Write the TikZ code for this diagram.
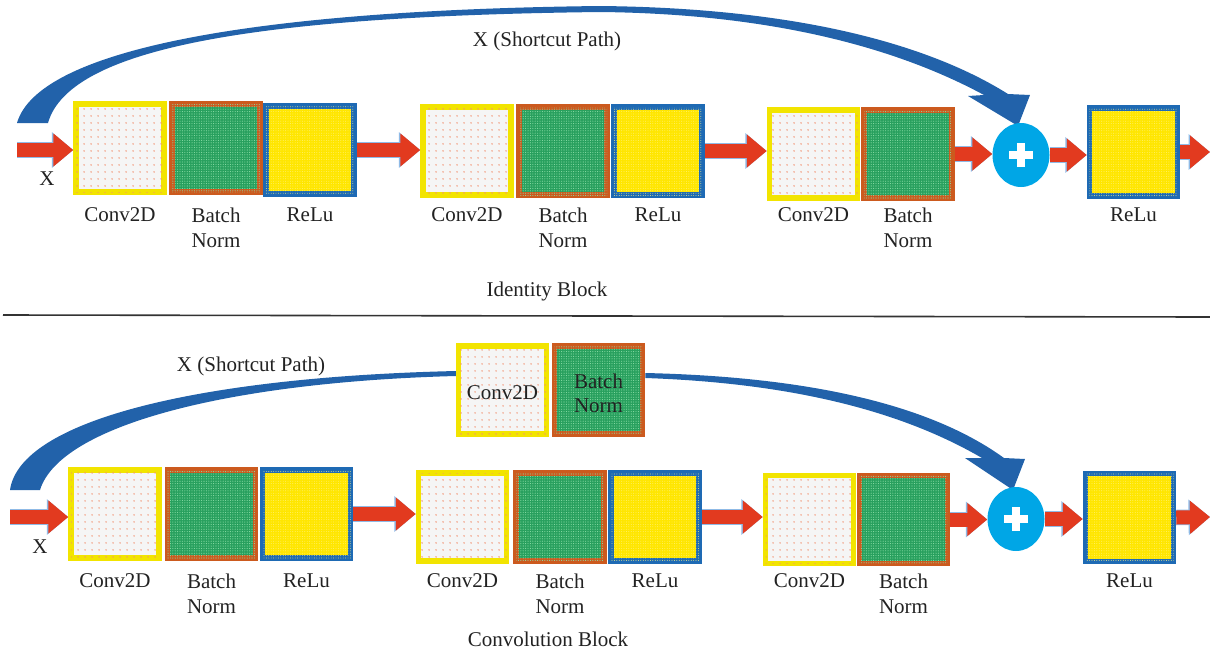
\documentclass[tikz,border=0pt]{standalone}
\usepackage{fontspec}
\setmainfont{Liberation Serif}
\usetikzlibrary{arrows.meta,patterns.meta,shapes.geometric}
\definecolor{arrred}{HTML}{E23A1F}
\definecolor{arrblue}{HTML}{8FBAE6}
\definecolor{convyel}{HTML}{F2E400}
\definecolor{convfill}{HTML}{F5F5F5}
\definecolor{convdot}{HTML}{F29070}
\definecolor{bnorg}{HTML}{CC5A1E}
\definecolor{bngreen}{HTML}{28A05E}
\definecolor{bndot}{HTML}{8ADDA6}
\definecolor{reluyel}{HTML}{FFE600}
\definecolor{reludot}{HTML}{FFF380}
\definecolor{relublue}{HTML}{1E6AB4}
\definecolor{addblue}{HTML}{00A6E6}
\definecolor{curveblue}{HTML}{2262AA}
\definecolor{txt}{HTML}{222222}
\tikzset{
  box/.style={rectangle, minimum size=88pt, inner sep=0pt, line width=5.5pt},
  convbox/.style={box, draw=convyel, fill=convfill,
    postaction={pattern={Dots[distance=6.5pt,radius=0.85pt]}, pattern color=convdot}},
  bnbox/.style={box, draw=bnorg, fill=bngreen,
    postaction={pattern={Dots[distance=2.4pt,radius=0.55pt]}, pattern color=bndot}},
  relubox/.style={box, draw=relublue, fill=reluyel,
    postaction={pattern={Dots[distance=2.4pt,radius=0.45pt]}, pattern color=reludot}},
  flowout/.style={draw=arrblue, line width=15.5pt, -{Triangle[length=21.5pt,width=34.5pt]}},
  flow/.style={draw=arrred, line width=14pt, -{Triangle[length=20pt,width=32pt]}},
  addnode/.style={ellipse, fill=addblue, minimum width=57pt, minimum height=64pt, inner sep=0pt},
  plusbar/.style={draw=white, line width=8.5pt},
  lbl/.style={font=\fontsize{21}{25}\selectfont, align=center, anchor=north, inner sep=0pt, text=txt},
  intxt/.style={font=\fontsize{21}{24}\selectfont, align=center, text=txt},
  shortcut/.style={fill=curveblue},
  sepline/.style={draw=black!80, line width=1.6pt}
}
\newcommand{\flowarrow}[2]{\draw[flowout] #1 -- #2; \draw[flow] #1 -- #2;}
\begin{document}
\begin{tikzpicture}[x=1pt,y=-1pt]
\useasboundingbox (0,0) rectangle (1210,654);

% ---------------- Identity block ----------------
\fill[shortcut] (17,123) .. controls (38,50) and (250,10) .. (600,6)
  .. controls (800,8) and (930,45) .. (1008,94)
  -- (1030,95) -- (1018,126) -- (968,96) -- (984,95)
  .. controls (910,55) and (790,14) .. (600,12)
  .. controls (270,16) and (70,45) .. (48,123) -- cycle;

\node[convbox] (c1) at (120,148) {};
\node[bnbox]   (b1) at (216,148) {};
\node[relubox] (r1) at (310,150) {};
\node[convbox] (c2) at (467,151) {};
\node[bnbox]   (b2) at (563,151) {};
\node[relubox] (r2) at (658,151) {};
\node[convbox] (c3) at (813.5,154) {};
\node[bnbox]   (b3) at (908,154) {};
\node[addnode] (add1) at (1021,155) {};
\node[relubox] (r3) at (1133.5,152) {};
\draw[plusbar] ([xshift=-12pt]add1.center) -- ([xshift=12pt]add1.center);
\draw[plusbar] ([yshift=-12pt]add1.center) -- ([yshift=12pt]add1.center);

\coordinate (in1) at (17,150);
\coordinate (out1) at (1210,152);
\flowarrow{(in1)}{(in1 -| c1.west)}
\flowarrow{(r1.east)}{(r1.east -| c2.west)}
\flowarrow{(r2.east)}{(r2.east -| c3.west)}
\flowarrow{(b3.east)}{(b3.east -| add1.west)}
\flowarrow{(add1.east)}{(add1.east -| r3.west)}
\flowarrow{(r3.east)}{(out1)}

\coordinate (lrow1) at (0,207.5);
\node[lbl] (lc1) at (c1 |- lrow1) {Conv2D};
\node[lbl] (lb1) at (b1 |- lrow1) {Batch\\Norm};
\node[lbl] (lr1) at (r1 |- lrow1) {ReLu};
\node[lbl] (lc2) at (c2 |- lrow1) {Conv2D};
\node[lbl] (lb2) at (b2 |- lrow1) {Batch\\Norm};
\node[lbl] (lr2) at (r2 |- lrow1) {ReLu};
\node[lbl] (lc3) at (c3 |- lrow1) {Conv2D};
\node[lbl] (lb3) at (b3 |- lrow1) {Batch\\Norm};
\node[lbl] (lr3) at (r3 |- lrow1) {ReLu};
\node[lbl] (x1) at (47,172) {X};
\node[lbl] (sp1) at (547,32) {X (Shortcut Path)};
\node[lbl] (title1) at (547,281.5) {Identity Block};

% separator
\coordinate (sepL) at (3,315);
\coordinate (sepR) at (1210,317);
\draw[sepline] (sepL) -- (sepR);

% ---------------- Convolution block ----------------
\node[convbox] (sc1) at (502.5,390) {};
\node[bnbox]   (sb1) at (598.5,390) {};
\node[intxt] (tsc1) at ([yshift=-3pt]sc1.center) {Conv2D};
\node[intxt] (tsb1) at ([yshift=-3pt]sb1.center) {Batch\\Norm};

\fill[shortcut] (10,490) .. controls (20,420) and (200,377) .. (sc1.west |- 0,371)
  -- (sc1.west |- 0,376) .. controls (230,382) and (60,425) .. (40,490) -- cycle;
\fill[shortcut] (sb1.east |- 0,373) .. controls (820,377) and (935,408) .. (1004,458)
  -- (1025,459) -- (1013,490) -- (965,458) -- (982,458)
  .. controls (920,422) and (820,384) .. (sb1.east |- 0,378) -- cycle;

\node[convbox] (c4) at (115,514) {};
\node[bnbox]   (b4) at (211.5,514) {};
\node[relubox] (r4) at (306.5,514) {};
\node[convbox] (c5) at (462.5,517) {};
\node[bnbox]   (b5) at (560,517) {};
\node[relubox] (r5) at (655,517) {};
\node[convbox] (c6) at (809.5,519.5) {};
\node[bnbox]   (b6) at (903.5,519.5) {};
\node[addnode] (add2) at (1016,519) {};
\node[relubox] (r6) at (1129.5,517.5) {};
\draw[plusbar] ([xshift=-12pt]add2.center) -- ([xshift=12pt]add2.center);
\draw[plusbar] ([yshift=-12pt]add2.center) -- ([yshift=12pt]add2.center);

\coordinate (in2) at (10,517);
\coordinate (out2) at (1210,517);
\flowarrow{(in2)}{(in2 -| c4.west)}
\flowarrow{(r4.east)}{(r4.east -| c5.west)}
\flowarrow{(r5.east)}{(r5.east -| c6.west)}
\flowarrow{(b6.east)}{(b6.east -| add2.west)}
\flowarrow{(add2.east)}{(add2.east -| r6.west)}
\flowarrow{(r6.east)}{(out2)}

\coordinate (lrow2) at (0,573.5);
\node[lbl] (lc4) at (c4 |- lrow2) {Conv2D};
\node[lbl] (lb4) at (b4 |- lrow2) {Batch\\Norm};
\node[lbl] (lr4) at (r4 |- lrow2) {ReLu};
\node[lbl] (lc5) at (c5 |- lrow2) {Conv2D};
\node[lbl] (lb5) at (b5 |- lrow2) {Batch\\Norm};
\node[lbl] (lr5) at (r5 |- lrow2) {ReLu};
\node[lbl] (lc6) at (c6 |- lrow2) {Conv2D};
\node[lbl] (lb6) at (b6 |- lrow2) {Batch\\Norm};
\node[lbl] (lr6) at (r6 |- lrow2) {ReLu};
\node[lbl] (x2) at (40,540) {X};
\node[lbl] (sp2) at (251,357) {X (Shortcut Path)};
\node[lbl] (title2) at (548,632) {Convolution Block};
\end{tikzpicture}
\end{document}
